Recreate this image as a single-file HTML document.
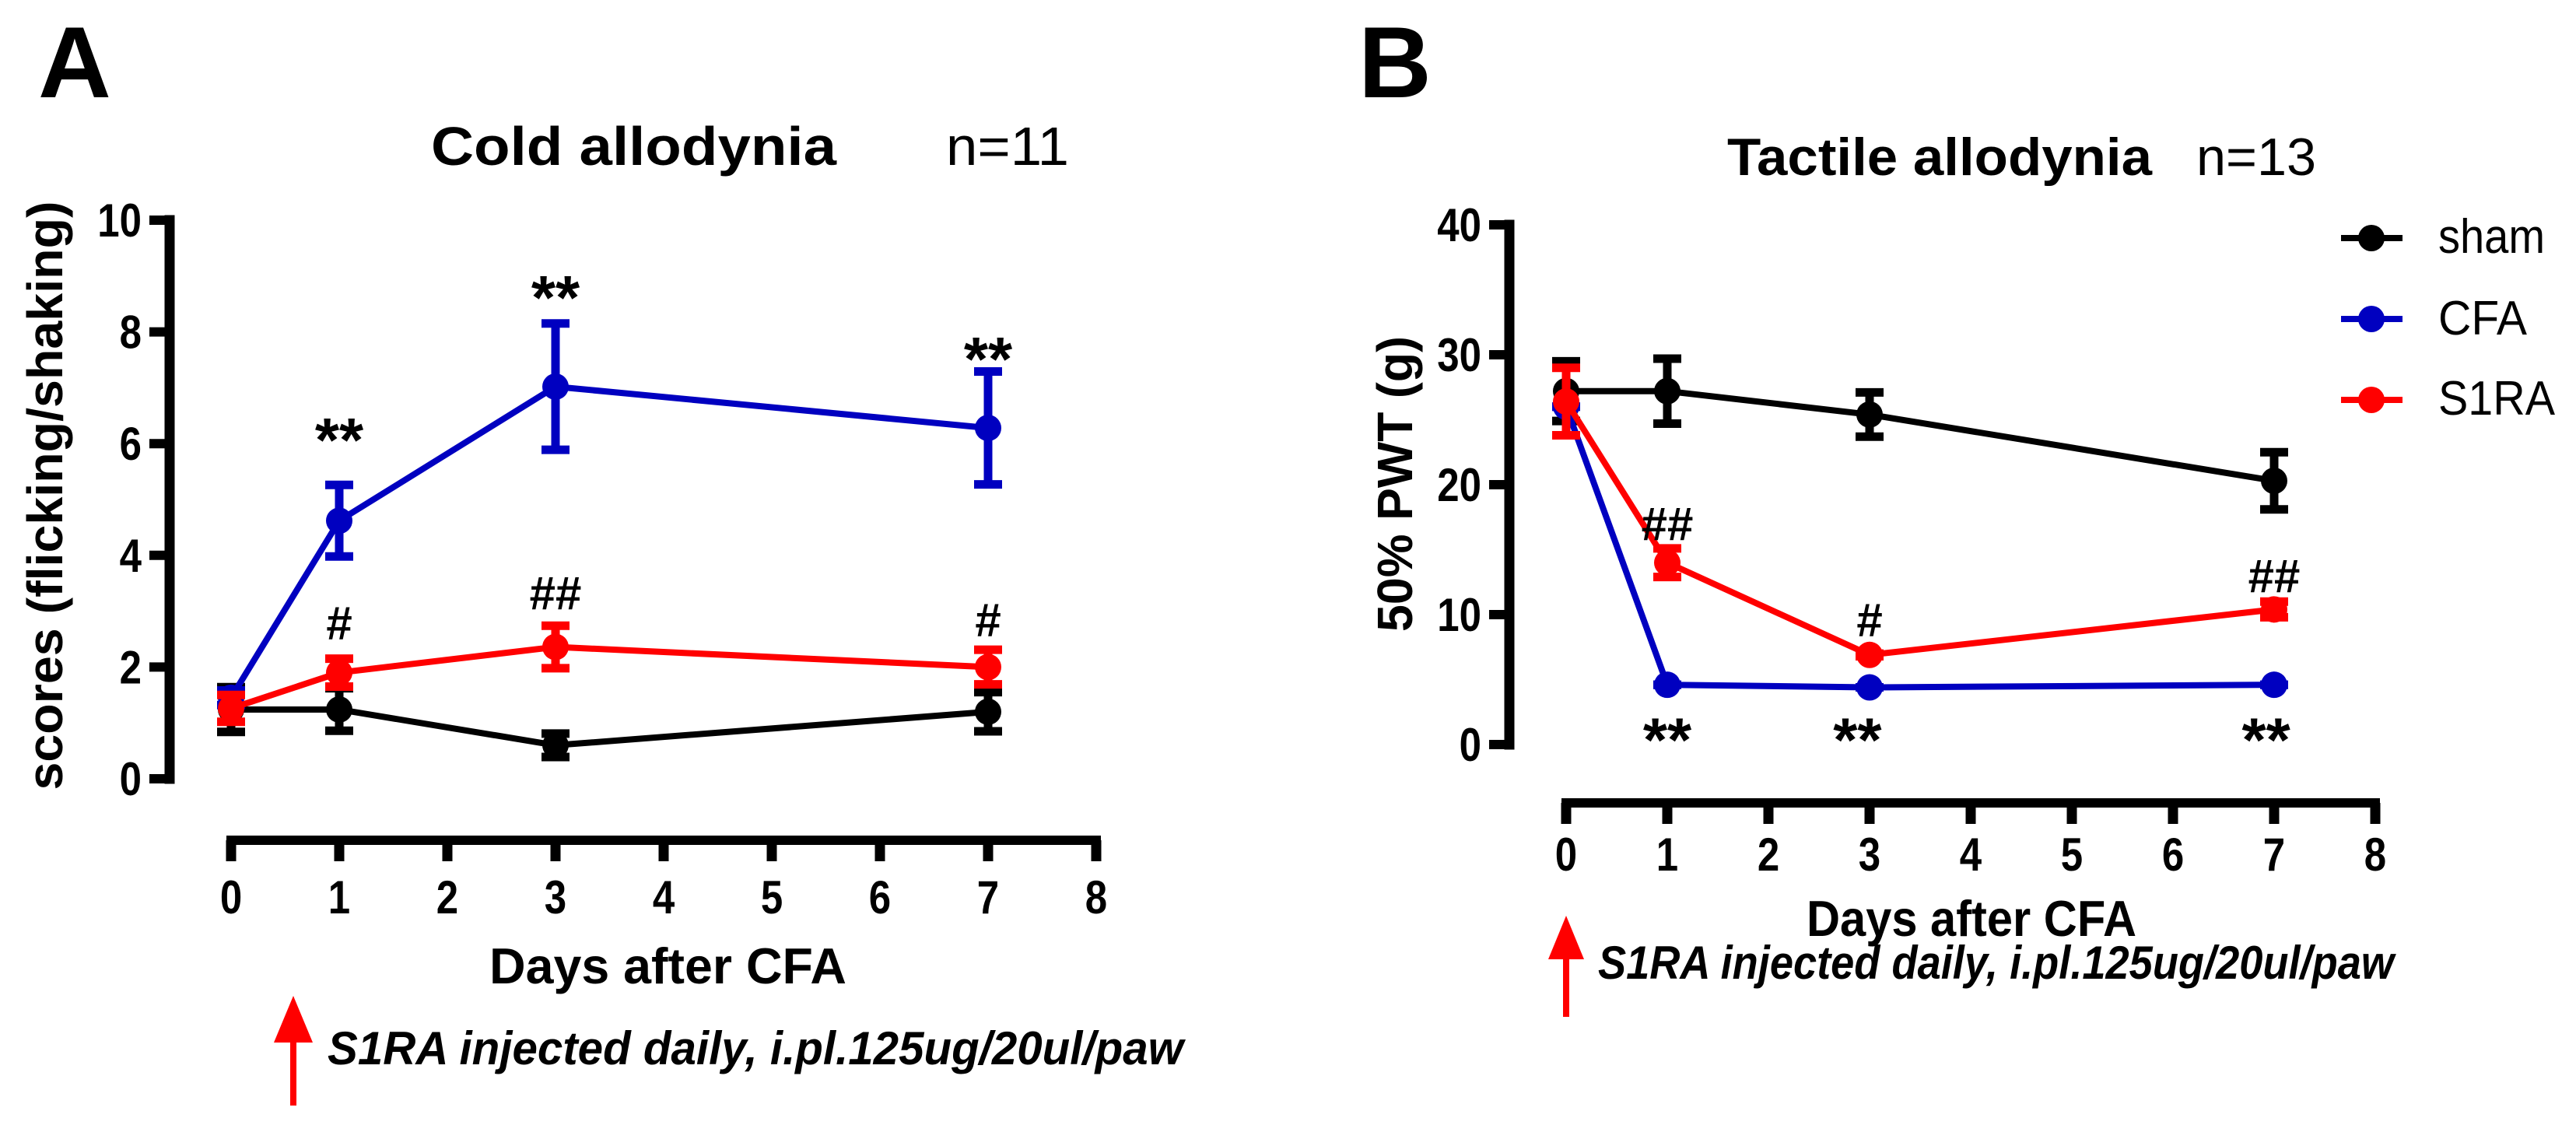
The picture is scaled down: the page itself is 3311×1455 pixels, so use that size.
<!DOCTYPE html>
<html><head><meta charset="utf-8"><style>
html,body{margin:0;padding:0;background:#fff;}
svg{display:block;font-family:"Liberation Sans",Arial,sans-serif;}
</style></head><body>
<svg id="chart" width="3311" height="1455" viewBox="0 0 3311 1455" xmlns="http://www.w3.org/2000/svg">
<g id="static">
<text x="49" y="125" font-size="130" font-weight="bold">A</text>
<text x="1746" y="125" font-size="130" font-weight="bold">B</text>
<text x="554" y="212" font-size="70" font-weight="bold" textLength="521" lengthAdjust="spacingAndGlyphs">Cold allodynia</text>
<text x="1216" y="212" font-size="70" textLength="158" lengthAdjust="spacingAndGlyphs">n=11</text>
<text x="2220" y="225" font-size="68" font-weight="bold" textLength="546" lengthAdjust="spacingAndGlyphs">Tactile allodynia</text>
<text x="2823" y="225" font-size="68" textLength="154" lengthAdjust="spacingAndGlyphs">n=13</text>
<text transform="translate(80,637) rotate(-90)" text-anchor="middle" font-size="64" font-weight="bold" textLength="757" lengthAdjust="spacingAndGlyphs">scores (flicking/shaking)</text>
<text transform="translate(1815,622) rotate(-90)" text-anchor="middle" font-size="64" font-weight="bold" textLength="380" lengthAdjust="spacingAndGlyphs">50% PWT (g)</text>
<text x="629" y="1264" font-size="65" font-weight="bold" textLength="459" lengthAdjust="spacingAndGlyphs">Days after CFA</text>
<text x="2322" y="1203" font-size="65" font-weight="bold" textLength="424" lengthAdjust="spacingAndGlyphs">Days after CFA</text>
<text x="421" y="1368" font-size="60" font-weight="bold" font-style="italic" textLength="1100" lengthAdjust="spacingAndGlyphs">S1RA injected daily, i.pl.125ug/20ul/paw</text>
<text x="2054" y="1258" font-size="60" font-weight="bold" font-style="italic" textLength="1023" lengthAdjust="spacingAndGlyphs">S1RA injected daily, i.pl.125ug/20ul/paw</text>
<g>
<line x1="377" y1="1335" x2="377" y2="1421" stroke="#ff0000" stroke-width="8"/>
<polygon points="377,1280 352,1340 402,1340" fill="#ff0000"/>
</g>
<g>
<line x1="2013" y1="1228" x2="2013" y2="1307" stroke="#ff0000" stroke-width="8"/>
<polygon points="2013,1177 1990,1233 2036,1233" fill="#ff0000"/>
</g>
<g>
<g><line x1="3009" y1="306" x2="3088" y2="306" stroke="#000" stroke-width="8"/><circle cx="3048" cy="306" r="17" fill="#000"/><text x="3134" y="325" font-size="62" textLength="137" lengthAdjust="spacingAndGlyphs">sham</text></g>
<g><line x1="3009" y1="410" x2="3088" y2="410" stroke="#0000c0" stroke-width="8"/><circle cx="3048" cy="410" r="17" fill="#0000c0"/><text x="3134" y="430" font-size="62" textLength="114" lengthAdjust="spacingAndGlyphs">CFA</text></g>
<g><line x1="3009" y1="514" x2="3088" y2="514" stroke="#ff0000" stroke-width="8"/><circle cx="3048" cy="514" r="17" fill="#ff0000"/><text x="3134" y="533" font-size="62" textLength="150" lengthAdjust="spacingAndGlyphs">S1RA</text></g>
</g>
</g>
<g id="dyn"></g>
</svg>
<script>
// shared
const days = [0, 1, 3, 7];
const xTicks = [0, 1, 2, 3, 4, 5, 6, 7, 8];
const seriesNames = ['sham', 'CFA', 'S1RA'];
const colors = ['#000000', '#0000c0', '#ff0000'];
// Panel A: cold allodynia
const aYTicks = [0, 2, 4, 6, 8, 10];
const aSham = [1.24, 1.24, 0.6, 1.2];
const aShamErr = [0.47, 0.45, 0.28, 0.42];
const aCFA = [1.45, 4.62, 7.02, 6.28];
const aCFAErr = [0.2, 0.71, 1.2, 1.08];
const aS1RA = [1.26, 1.9, 2.36, 2.0];
const aS1RAErr = [0.31, 0.32, 0.45, 0.38];
const aMarkDays = [1, 3, 7, 1, 3, 7];
const aMarkVals = [6.35, 8.9, 7.8, 2.79, 3.33, 2.85];
const aMarkText = ['**', '**', '**', '#', '##', '#'];
// Panel B: tactile allodynia
const bYTicks = [0, 10, 20, 30, 40];
const bSham = [27.2, 27.2, 25.4, 20.3];
const bShamErr = [2.6, 2.8, 2.0, 2.5];
const bCFA = [26.0, 4.6, 4.4, 4.6];
const bCFAErr = [0.3, 0.3, 0.3, 0.3];
const bS1RA = [26.4, 14.0, 6.9, 10.4];
const bS1RAErr = [2.9, 1.4, 0.4, 0.9];
const bMarkDays = [1, 2.88, 6.92, 1, 3, 7];
const bMarkVals = [1.6, 1.6, 1.6, 17.0, 9.6, 13.0];
const bMarkText = ['**', '**', '**', '##', '#', '##'];

const NS = 'http://www.w3.org/2000/svg';
const dyn = document.getElementById('dyn');
function mk(tag, attrs, parent) {
  const e = document.createElementNS(NS, tag);
  for (const k in attrs) e.setAttribute(k, attrs[k]);
  (parent || dyn).appendChild(e);
  return e;
}
function panel(p, cfg) {
  const g = mk('g', {});
  
  
  const X = cfg.x, Y = cfg.y;
  const ya = mk('g', {}, g);
  
  
  mk('line', {x1: cfg.yAxisX, y1: Y(cfg.yTicks[cfg.yTicks.length - 1]) - 6.5, x2: cfg.yAxisX, y2: Y(0) + 6.5, stroke: '#000', 'stroke-width': 13}, ya);
  cfg.yTicks.forEach(t => {
    mk('line', {x1: cfg.yAxisX - 26, y1: Y(t), x2: cfg.yAxisX, y2: Y(t), stroke: '#000', 'stroke-width': 12}, ya);
    const tx = mk('text', {x: cfg.yAxisX - 36, y: Y(t) + 21, 'text-anchor': 'end', 'font-size': 60, 'font-weight': 'bold', transform: 'translate(' + (cfg.yAxisX - 36) + ',0) scale(0.85,1) translate(' + (-(cfg.yAxisX - 36)) + ',0)'}, ya);
    tx.textContent = t;
    
    
  });
  const xa = mk('g', {}, g);
  
  
  mk('line', {x1: X(0) - 6, y1: cfg.xAxisY, x2: X(8) + 6, y2: cfg.xAxisY, stroke: '#000', 'stroke-width': 12}, xa);
  xTicks.forEach(t => {
    mk('line', {x1: X(t), y1: cfg.xAxisY, x2: X(t), y2: cfg.xAxisY + 27, stroke: '#000', 'stroke-width': 13}, xa);
    const tx = mk('text', {x: X(t), y: cfg.tickBase, 'text-anchor': 'middle', 'font-size': 60, 'font-weight': 'bold', transform: 'translate(' + X(t) + ',0) scale(0.85,1) translate(' + (-X(t)) + ',0)'}, xa);
    tx.textContent = t;
    
    
  });
  cfg.series.forEach((s, si) => {
    const sg = mk('g', {}, g);
    
    
    const c = colors[si];
    const pts = days.map((d, i) => X(d) + ',' + Y(s.v[i])).join(' ');
    mk('polyline', {points: pts, fill: 'none', stroke: c, 'stroke-width': 8, 'stroke-linejoin': 'round'}, sg);
    days.forEach((d, i) => {
      const top = Y(s.v[i] + s.e[i]), bot = Y(s.v[i] - s.e[i]);
      const eb = mk('g', {}, sg);
      
      
      mk('line', {x1: X(d), y1: top, x2: X(d), y2: bot, stroke: c, 'stroke-width': 11}, eb);
      mk('line', {x1: X(d) - 18, y1: top + 5, x2: X(d) + 18, y2: top + 5, stroke: c, 'stroke-width': 11}, eb);
      mk('line', {x1: X(d) - 18, y1: bot - 5, x2: X(d) + 18, y2: bot - 5, stroke: c, 'stroke-width': 11}, eb);
      const pt = mk('circle', {cx: X(d), cy: Y(s.v[i]), r: 17, fill: c}, sg);
      
      
    });
  });
  cfg.markDays.forEach((d, i) => {
    const star = cfg.markText[i].indexOf('*') >= 0;
    const size = star ? 80 : 60;
    const off = star ? 48 : 21;
    const t = mk('text', {x: X(d), y: Y(cfg.markVals[i]) + off, 'text-anchor': 'middle', 'font-size': size, 'font-weight': 'bold'}, g);
    t.textContent = cfg.markText[i];
    
    
  });
}
panel('a', {
  x: d => 297 + 139 * d, y: v => 1001 - 71.8 * v,
  yAxisX: 218, xAxisY: 1080, tickBase: 1174, yTicks: aYTicks,
  series: [{v: aSham, e: aShamErr}, {v: aCFA, e: aCFAErr}, {v: aS1RA, e: aS1RAErr}],
  markDays: aMarkDays, markVals: aMarkVals, markText: aMarkText
});
panel('b', {
  x: d => 2013 + 130 * d, y: v => 957 - 16.7 * v,
  yAxisX: 1940, xAxisY: 1032, tickBase: 1119, yTicks: bYTicks,
  series: [{v: bSham, e: bShamErr}, {v: bCFA, e: bCFAErr}, {v: bS1RA, e: bS1RAErr}],
  markDays: bMarkDays, markVals: bMarkVals, markText: bMarkText
});
</script>
</body></html>
